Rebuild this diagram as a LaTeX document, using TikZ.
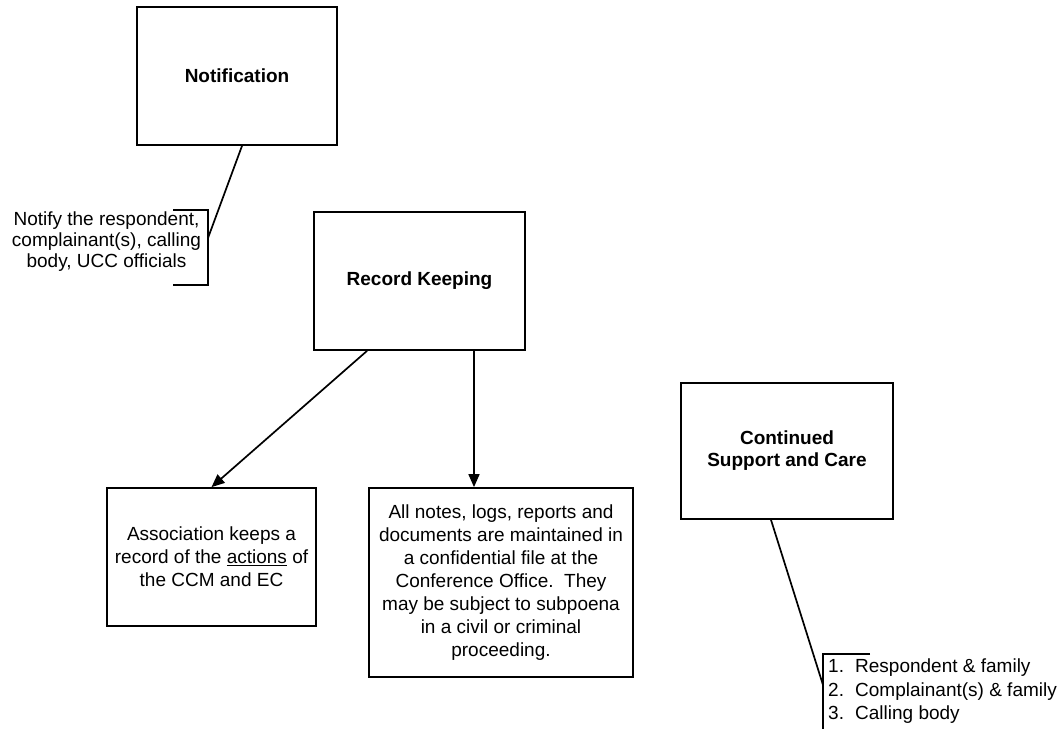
\documentclass[tikz,border=0pt]{standalone}
\usepackage{fontspec}
\setmainfont{Liberation Sans}
\usetikzlibrary{arrows.meta}
\begin{document}
\begin{tikzpicture}[x=1pt,y=-1pt,
  box/.style={draw,line width=1.8pt,inner sep=0pt,align=center},
  txt/.style={font=\fontsize{19}{23}\selectfont},
  ttl/.style={font=\fontsize{19}{22}\selectfont\bfseries},
  conn/.style={line width=1.7pt},
  arr/.style={line width=1.7pt,-{Triangle[length=13pt,width=11pt]}}]
\useasboundingbox[fill=white] (0,0) rectangle (1062,729);
% boxes
\node[box,ttl,minimum width=200pt,minimum height=138pt] (notif) at (237,76) {Notification};
\node[box,ttl,minimum width=211pt,minimum height=138pt] (rec) at (419.5,281) {Record Keeping};
\node[box,txt,minimum width=209pt,minimum height=138pt] (assoc) at (211.5,557)
  {Association keeps a\\record of the \underline{actions} of\\the CCM and EC};
\node[box,txt,minimum width=264pt,minimum height=189pt] (big) at (501,582.5)
  {All notes, logs, reports and\\documents are maintained in\\a confidential file at the\\Conference Office.\ \ They\\may be subject to subpoena\\in a civil or criminal\\proceeding.};
\node[box,ttl,minimum width=212pt,minimum height=136pt] (cont) at (787,451) {Continued\\Support and Care};
% notify callout
\node[txt,align=center,inner sep=0pt,font=\fontsize{19}{21}\selectfont] (notify) at (106.5,242)
  {Notify the respondent,\\complainant(s), calling\\body, UCC officials};
\coordinate (nbt) at (173,210);
\coordinate (nbb) at (173,285);
\coordinate (nbm) at (208,238);
\draw[conn] (nbt) -| (nbb -| nbm) -- (nbb);
\draw[conn] ([xshift=5pt]notif.south) -- (nbm);
% arrows from record keeping
\draw[arr] ([xshift=-52.5pt]rec.south) -- (assoc.north);
\draw[arr] ([xshift=54.5pt]rec.south) -- ([xshift=54.5pt]rec.south |- big.north);
% list callout
\coordinate (lbt) at (870,654);
\coordinate (lbc) at (823,654);
\coordinate (lbb) at (823,729);
\coordinate (lbm) at (823,685);
\draw[conn] (lbt) -- (lbc) -- (lbb);
\draw[conn] ([xshift=-16pt]cont.south) -- (lbm);
\node[txt,align=left,inner sep=0pt,anchor=west,font=\fontsize{19}{23.5}\selectfont] (list) at (828,691.5)
  {\makebox[27pt][l]{1.}Respondent \& family\\
   \makebox[27pt][l]{2.}Complainant(s) \& family\\
   \makebox[27pt][l]{3.}Calling body};
\end{tikzpicture}
\end{document}
